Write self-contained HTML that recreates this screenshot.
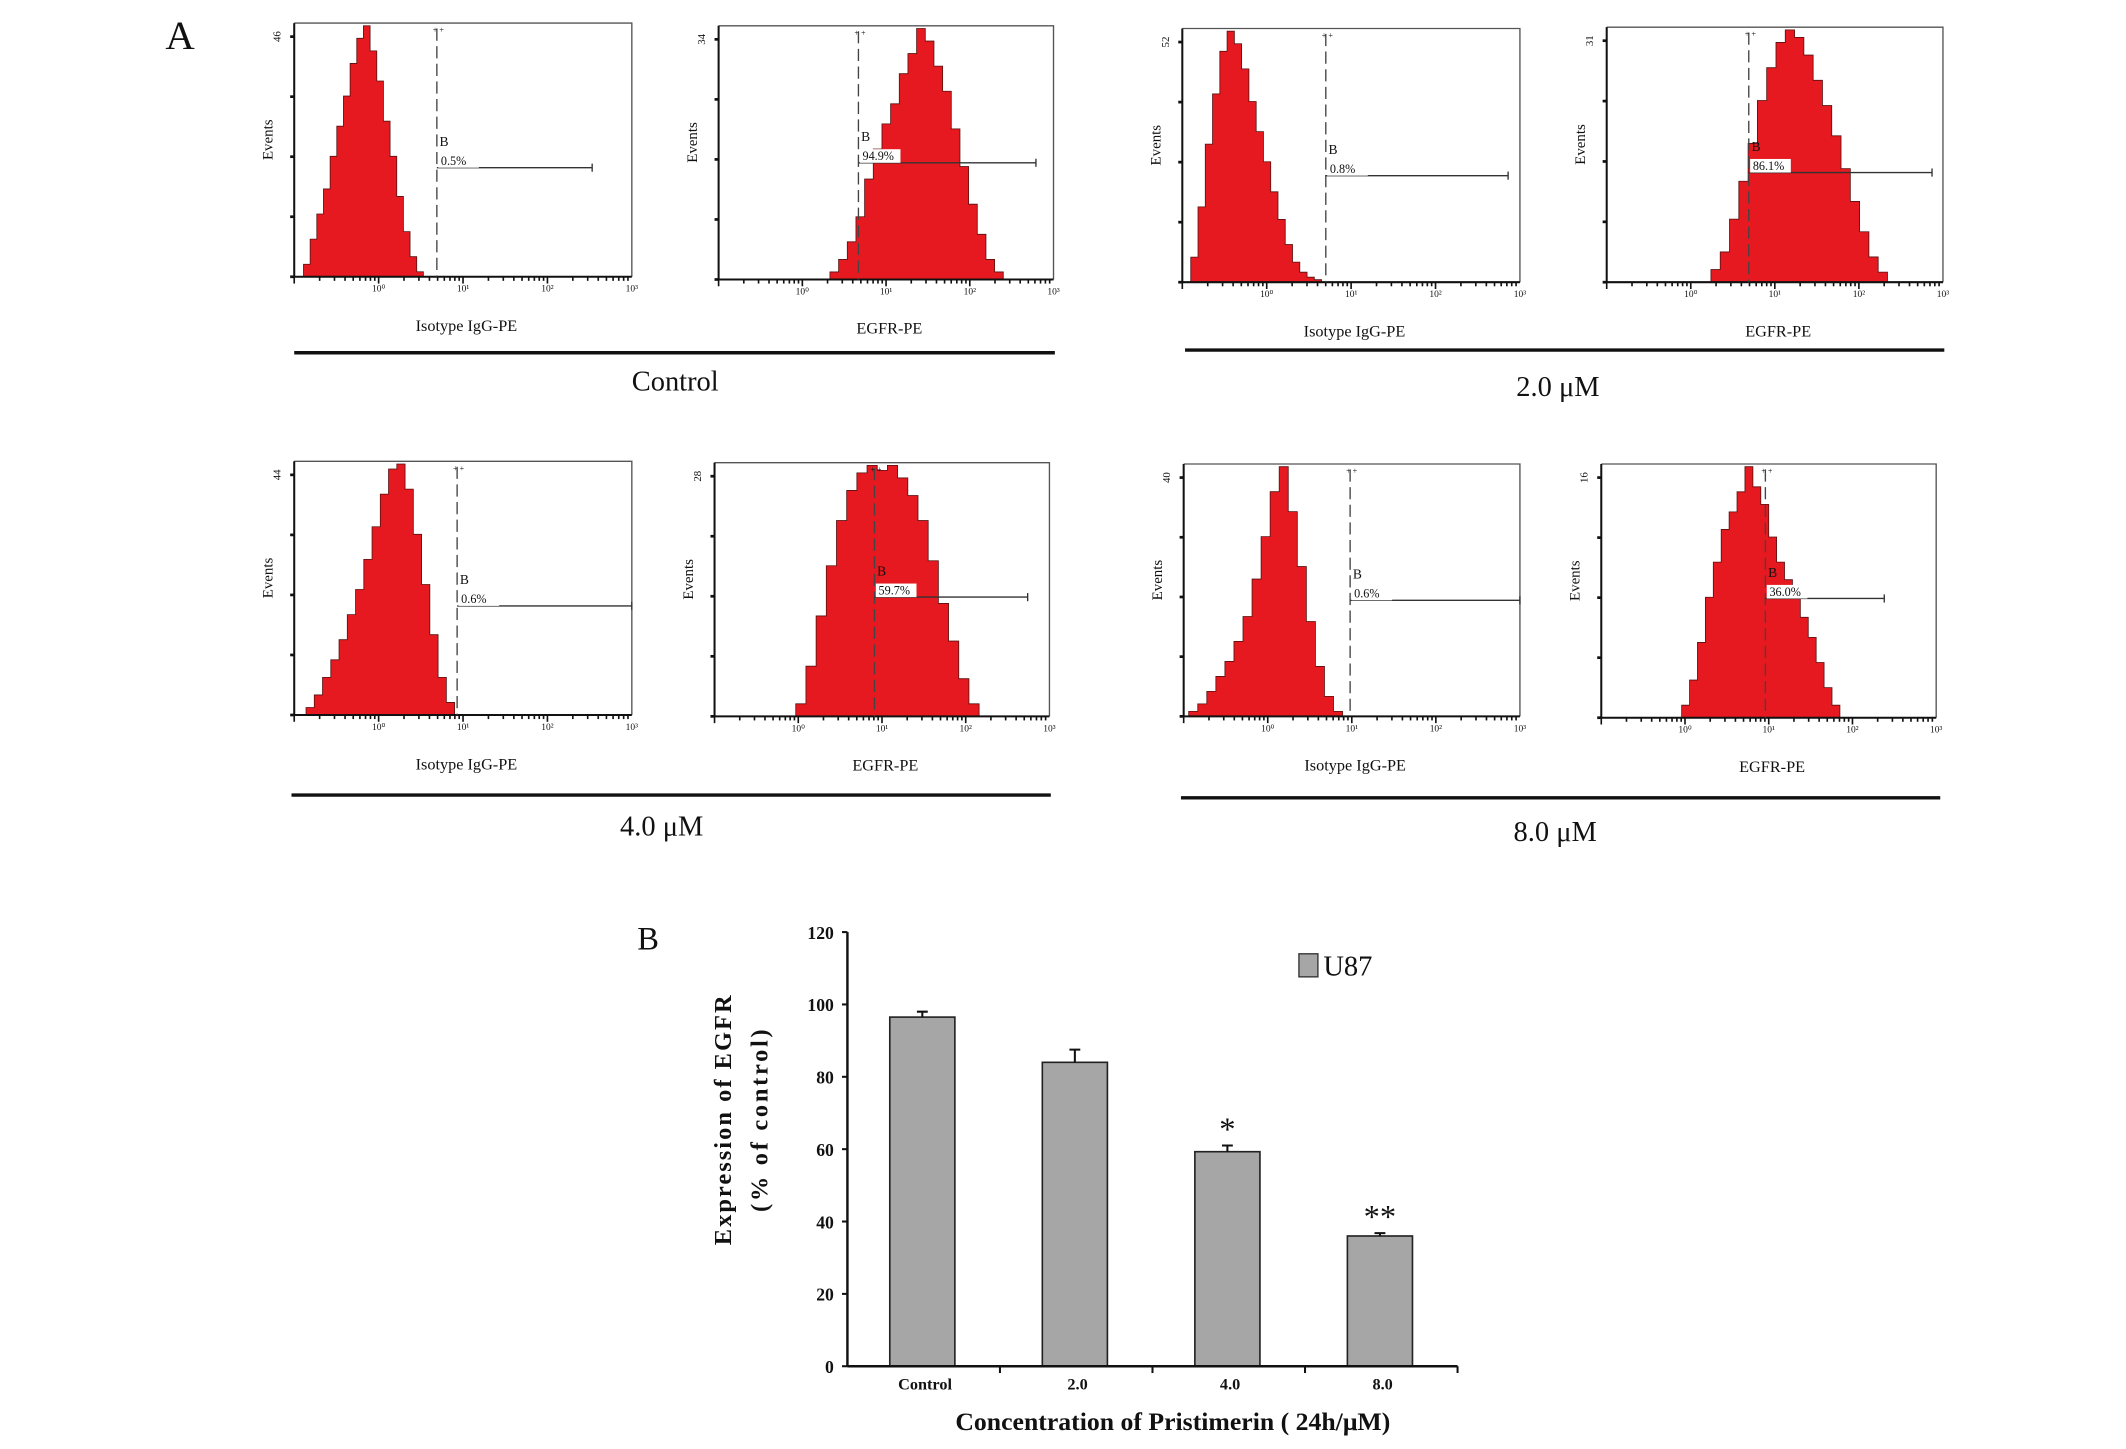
<!DOCTYPE html>
<html><head><meta charset="utf-8"><style>
html,body{margin:0;padding:0;background:#fff;}
svg{display:block;}
text{font-family:"Liberation Serif",serif;fill:#111;}
</style></head><body>
<svg id="fig" width="2126" height="1449" viewBox="0 0 1568 1068" preserveAspectRatio="none" xmlns="http://www.w3.org/2000/svg">
<rect x="0" y="0" width="1568" height="1068" fill="#fff"/>
<text x="122" y="36" font-size="30">A</text>
<text x="470" y="700" font-size="24">B</text>
<g id="hists"></g>
<g id="bars"></g>
</svg>
<script>
// ---------- Panel A histogram data ----------
const panelBoxes = [[217,17,466,204],[530,19,777,206],[872,21,1121,208],[1185,20,1433,208],
                    [217,340,466,527],[527,341,774,528],[873,342,1121,528],[1181,342,1428,529]];
const panelXLabels = ["Isotype IgG-PE","EGFR-PE","Isotype IgG-PE","EGFR-PE","Isotype IgG-PE","EGFR-PE","Isotype IgG-PE","EGFR-PE"];
const panelYMax = ["46","34","52","31","44","28","40","16"];
const gatePercents = ["0.5%","94.9%","0.8%","86.1%","0.6%","59.7%","0.6%","36.0%"];
const histStart = [-0.89,0.33,-0.90,0.24,-0.86,-0.03,-0.94,-0.04];
const histEnd = [0.53,2.40,0.65,2.34,0.90,2.16,0.89,1.85];
const gateLog = [0.69,0.67,0.70,0.69,0.93,0.91,0.98,0.96];
const gateEndLog = [2.53,2.79,2.86,2.87,3.0,2.74,3.0,2.38];
const gateLevel = [0.43,0.46,0.42,0.43,0.43,0.47,0.46,0.47];
const histValues = [
 [0.05,0.15,0.25,0.35,0.48,0.6,0.72,0.85,0.95,1.0,0.9,0.78,0.62,0.48,0.32,0.18,0.08,0.02],
 [0.03,0.08,0.15,0.25,0.4,0.52,0.62,0.7,0.82,0.9,1.0,0.95,0.85,0.75,0.6,0.45,0.3,0.18,0.08,0.03],
 [0.1,0.3,0.55,0.75,0.92,1.0,0.95,0.85,0.72,0.6,0.48,0.36,0.25,0.15,0.08,0.04,0.02,0.01],
 [0.05,0.12,0.25,0.4,0.55,0.72,0.85,0.95,1.0,0.97,0.9,0.8,0.7,0.58,0.45,0.32,0.2,0.1,0.04],
 [0.03,0.08,0.15,0.22,0.3,0.4,0.5,0.62,0.75,0.88,0.98,1.0,0.9,0.72,0.52,0.32,0.15,0.05],
 [0.05,0.2,0.4,0.6,0.78,0.9,0.97,1.0,0.98,1.0,0.95,0.88,0.78,0.62,0.45,0.3,0.15,0.05],
 [0.02,0.05,0.1,0.16,0.22,0.3,0.4,0.55,0.72,0.9,1.0,0.82,0.6,0.38,0.2,0.08,0.02],
 [0.05,0.15,0.3,0.48,0.62,0.75,0.82,0.9,1.0,0.92,0.85,0.72,0.62,0.55,0.48,0.4,0.32,0.22,0.12,0.05]
];
const decadeLabels = ["10⁰","10¹","10²","10³"];
const groupNames = ["Control","2.0 μM","4.0 μM","8.0 μM"];
const groupLines = [[217,778,260],[874,1434,258],[215,775,586],[871,1431,588]];
const groupLabelPos = [[498,288],[1149,292],[488,616],[1147,620]];

// ---------- Panel B bar data ----------
const barCategories = ["Control","2.0","4.0","8.0"];
const barValues = [96.5,84,59.3,36];
const barErrors = [1.5,3.5,1.7,0.8];
const barStars = ["","","*","**"];
const yTicks = [0,20,40,60,80,100,120];

const NS = "http://www.w3.org/2000/svg";
function mk(tag, attrs, parent, txt){
  const e = document.createElementNS(NS, tag);
  for (const k in attrs) e.setAttribute(k, attrs[k]);
  if (txt !== undefined) e.textContent = txt;
  parent.appendChild(e);
  return e;
}
const H = document.getElementById('hists');
panelBoxes.forEach((b,i)=>{
  const [x0,y0,x1,y1] = b;
  const w = x1-x0, h = y1-y0;
  const xs = l => x0 + (l+1)/4*w;
  const ys = v => y1 - v*(h-2);
  const g = mk('g',{},H);
  
  
  const vals = histValues[i];
  const n = vals.length;
  const step = (histEnd[i]-histStart[i])/n;
  let pts = [xs(histStart[i])+','+y1];
  vals.forEach((v,k)=>{
    const a = xs(histStart[i]+k*step), c = xs(histStart[i]+(k+1)*step);
    pts.push(a+','+ys(v)); pts.push(c+','+ys(v));
  });
  pts.push(xs(histEnd[i])+','+y1);
  const poly = mk('polygon',{points:pts.join(' '),fill:'#e5191f',stroke:'#5a1010','stroke-width':0.6},g);
  
  
  mk('polyline',{points:`${x0},${y0} ${x1},${y0} ${x1},${y1}`,fill:'none',stroke:'#555','stroke-width':1},g);
  mk('line',{x1:x0,y1:y0,x2:x0,y2:y1,stroke:'#111','stroke-width':1.5},g);
  mk('line',{x1:x0,y1:y1,x2:x1,y2:y1,stroke:'#111','stroke-width':1.5},g);
  for(let t=0;t<=4;t++){ const yy = y1 - t*(h-10)/4; mk('line',{x1:x0-3,y1:yy,x2:x0,y2:yy,stroke:'#111','stroke-width':2},g); }
  for(let d=-1; d<3; d++){ for(let m=1;m<10;m++){ const xx = xs(d+Math.log10(m)); mk('line',{x1:xx,y1:y1,x2:xx,y2:y1+(m==1?5:3),stroke:'#111','stroke-width':1.2},g);} }
  decadeLabels.forEach((lb,k)=>{ mk('text',{x:xs(k),y:y1+11,'font-size':7,'text-anchor':'middle'},g,lb); });
  mk('text',{x:0,y:0,'font-size':8,transform:`translate(${x0-10},${y0+14}) rotate(-90)`},g,panelYMax[i]);
  const ev = mk('text',{x:0,y:0,'font-size':11,'text-anchor':'middle',transform:`translate(${x0-16},${y0+h*0.46}) rotate(-90)`},g,'Events');
  
  
  const xl = mk('text',{x:x0+w*0.51,y:y1+40,'font-size':12,'text-anchor':'middle'},g,panelXLabels[i]);
  
  
  const gx = xs(gateLog[i]), gy = y1 - gateLevel[i]*h;
  const gl = mk('line',{x1:gx,y1:y0+4,x2:gx,y2:y1,stroke:'#444','stroke-width':1,'stroke-dasharray':'9,4'},g);
  
  
  mk('text',{x:gx-3,y:y0+7,'font-size':6},g,'+ +');
  mk('line',{x1:gx,y1:gy,x2:xs(gateEndLog[i]),y2:gy,stroke:'#333','stroke-width':1},g);
  mk('line',{x1:xs(gateEndLog[i]),y1:gy-3,x2:xs(gateEndLog[i]),y2:gy+3,stroke:'#333','stroke-width':1},g);
  mk('text',{x:gx+2,y:gy-16,'font-size':10,'font-family':'Liberation Sans'},g,'B');
  mk('rect',{x:gx+1,y:gy-10,width:30,height:10,fill:'#fff'},g);
  const gp = mk('text',{x:gx+3,y:gy-2,'font-size':9,'font-family':'Liberation Sans'},g,gatePercents[i]);
  
  
});
groupLines.forEach((l,i)=>{
  const ln = mk('line',{x1:l[0],y1:l[2],x2:l[1],y2:l[2],stroke:'#111','stroke-width':2.5},H);
  
  
  const t = mk('text',{x:groupLabelPos[i][0],y:groupLabelPos[i][1],'font-size':21,'text-anchor':'middle'},H,groupNames[i]);
  
  
});

// ---------- Panel B ----------
const B = document.getElementById('bars');
const ax = {x0:625, x1:1075, y0:1007, y1:687};
const yS = v => ax.y0 - v/120*(ax.y0-ax.y1);
const slot = (ax.x1-ax.x0)/4;
const xC = i => ax.x0 + slot*(i+0.5) - 1;
const bw = 48;
yTicks.forEach(t=>{
  const yy=yS(t);
  mk('line',{x1:ax.x0-4,y1:yy,x2:ax.x0,y2:yy,stroke:'#111','stroke-width':1.5},B);
  const tl = mk('text',{x:ax.x0-10,y:yy+5,'font-size':13,'font-weight':'bold','text-anchor':'end'},B,String(t));
  
  
});
barValues.forEach((v,i)=>{
  const cx=xC(i);
  const r = mk('rect',{x:cx-bw/2,y:yS(v),width:bw,height:ax.y0-yS(v),fill:'#a6a6a6',stroke:'#222','stroke-width':1.2},B);
  
  
  const top=yS(v+barErrors[i]);
  const eb = mk('path',{d:`M${cx},${yS(v)} V${top} M${cx-4},${top} H${cx+4}`,stroke:'#111','stroke-width':1.5,fill:'none'},B);
  
  
  if(barStars[i]){
    const s = mk('text',{x:cx,y:top-4,'font-size':24,'text-anchor':'middle'},B,barStars[i]);
    
    
  }
  const cl = mk('text',{x:cx+2,y:ax.y0+17,'font-size':12,'font-weight':'bold','text-anchor':'middle'},B,barCategories[i]);
  
  
});
mk('line',{x1:ax.x0,y1:ax.y1,x2:ax.x0,y2:ax.y0,stroke:'#111','stroke-width':1.8},B);
mk('line',{x1:ax.x0,y1:ax.y0,x2:ax.x1,y2:ax.y0,stroke:'#111','stroke-width':1.8},B);
for(let k=1;k<=4;k++){ const xx=ax.x0+slot*k; mk('line',{x1:xx,y1:ax.y0,x2:xx,y2:ax.y0+5,stroke:'#111','stroke-width':1.5},B); }
const lg = mk('rect',{x:958,y:703,width:14,height:17,fill:'#a6a6a6',stroke:'#333','stroke-width':1},B);


const lt = mk('text',{x:976,y:719,'font-size':21},B,'U87');


const yt1 = mk('text',{x:0,y:0,'font-size':18,'font-weight':'bold','text-anchor':'middle','letter-spacing':'1.5',transform:'translate(539,825) rotate(-90)'},B,'Expression of EGFR');


const yt2 = mk('text',{x:0,y:0,'font-size':18,'font-weight':'bold','text-anchor':'middle','letter-spacing':'2',transform:'translate(566,825) rotate(-90)'},B,'(% of control)');


const xt = mk('text',{x:865,y:1054,'font-size':19,'font-weight':'bold','text-anchor':'middle'},B,'Concentration of Pristimerin ( 24h/μM)');


</script>
</body></html>
